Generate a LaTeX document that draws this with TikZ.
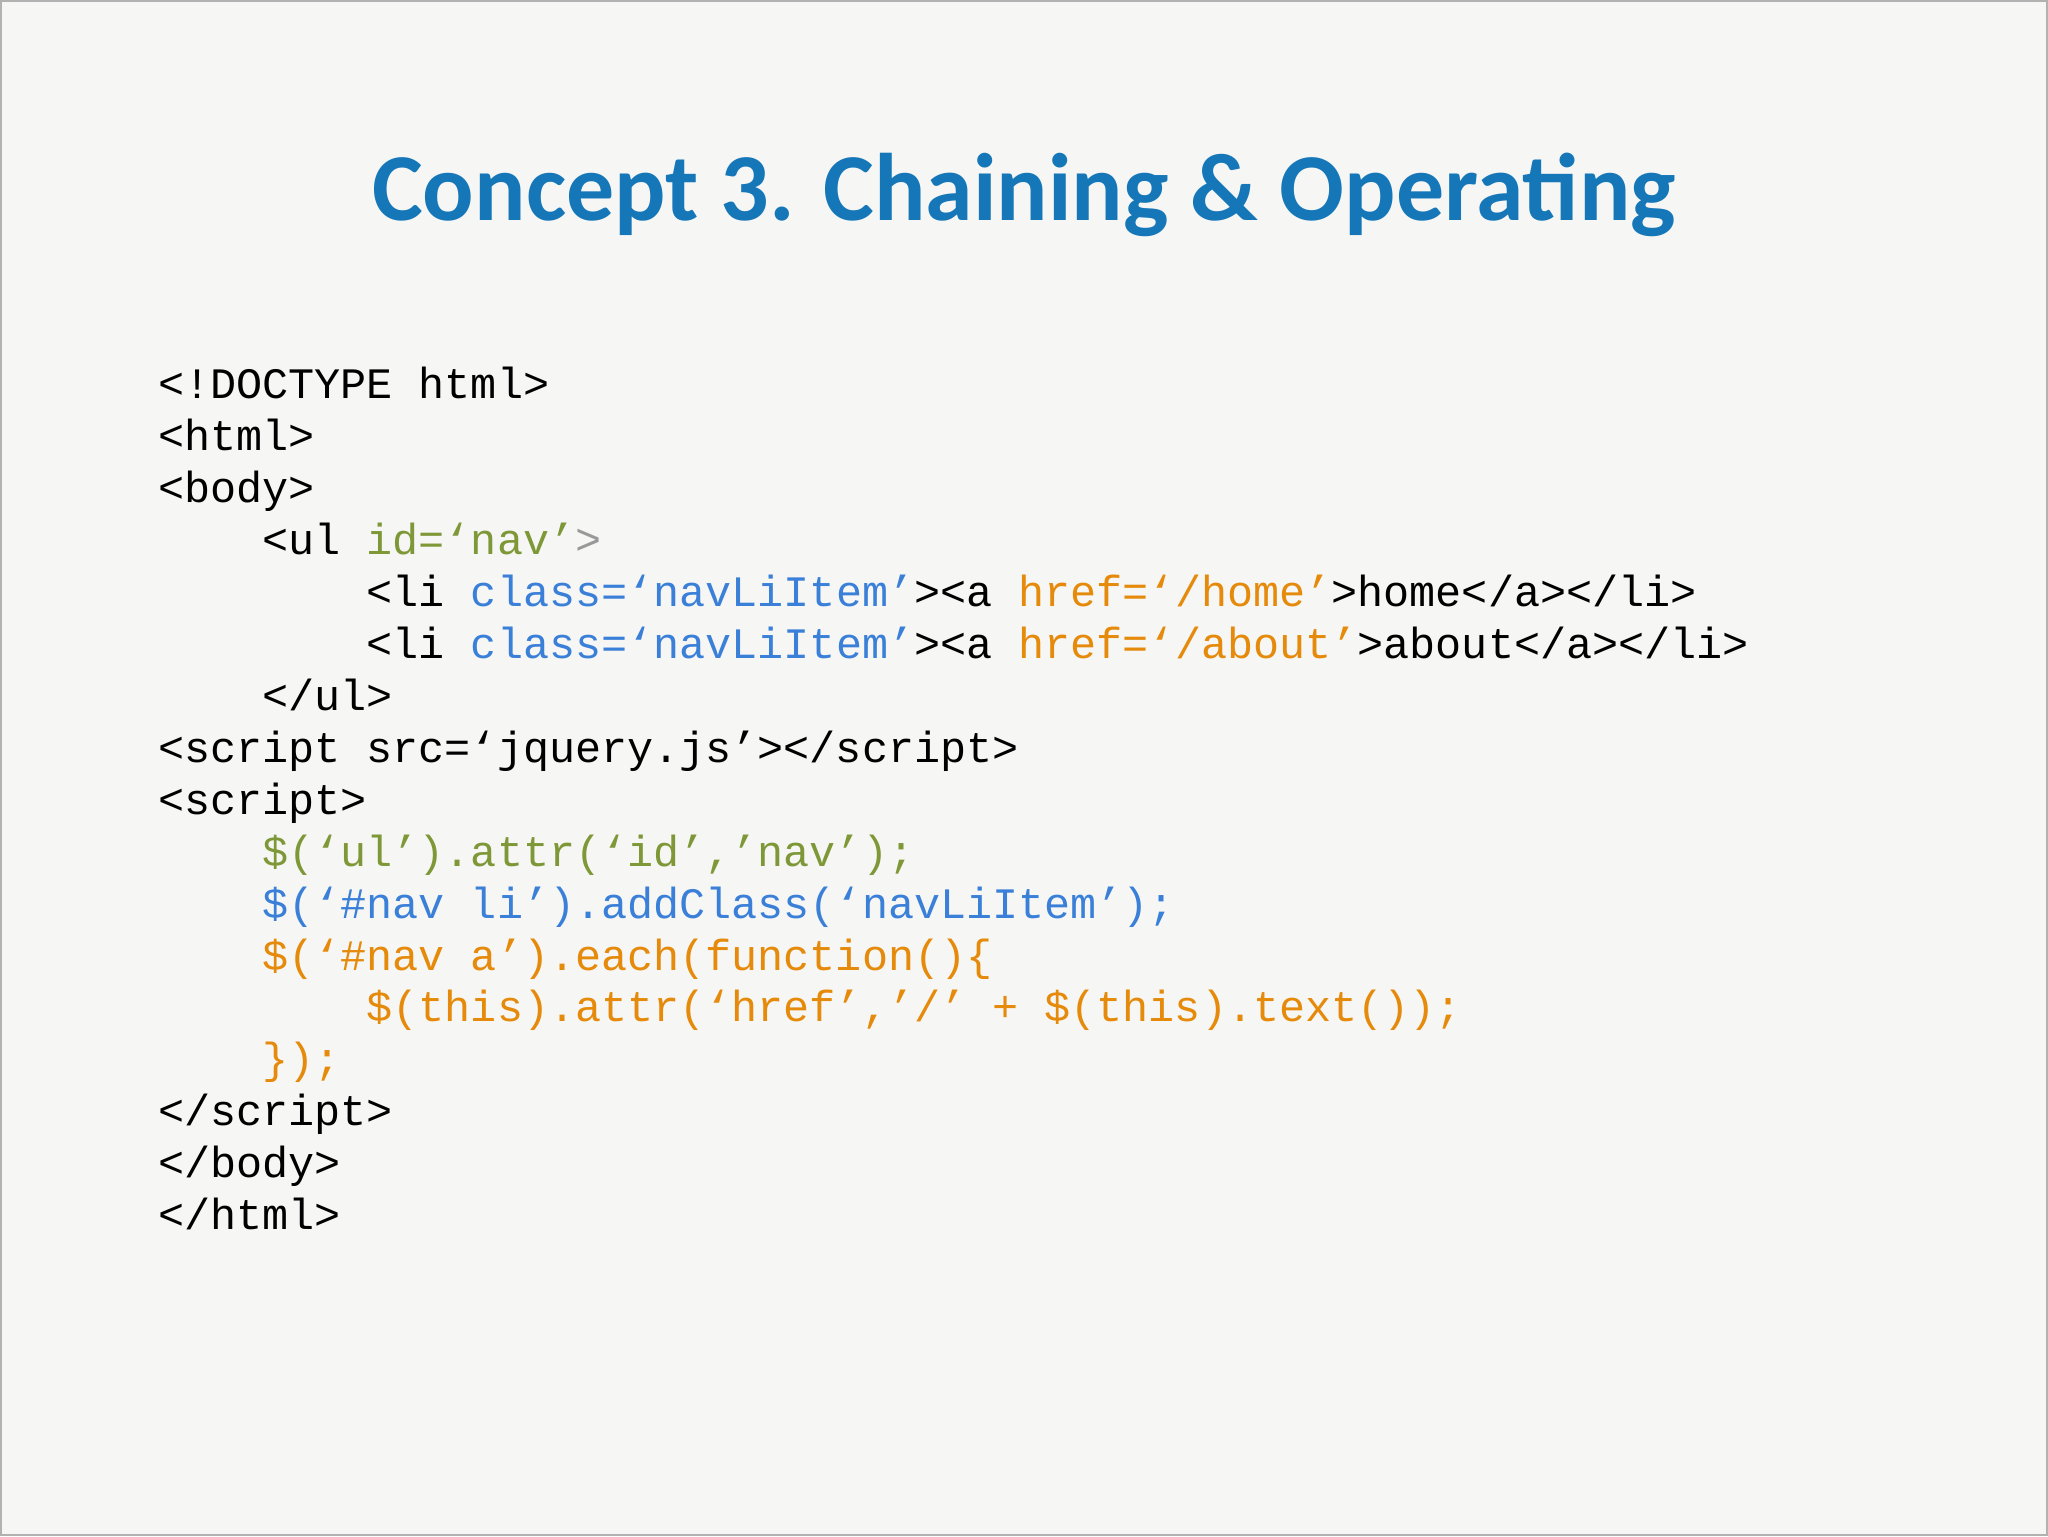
\documentclass[tikz,border=0pt]{standalone}
\usepackage{fontspec}
\setmainfont{Carlito}
\newfontfamily\codefont{Liberation Mono}
\definecolor{bg}{HTML}{F6F6F5}
\definecolor{ttl}{HTML}{1577B8}
\definecolor{cg}{HTML}{7E9838}
\definecolor{cb}{HTML}{3A7FD8}
\definecolor{co}{HTML}{E58A0A}
\definecolor{cgr}{HTML}{999999}
\tikzset{code/.style={anchor=base west,inner sep=0pt,font=\codefont\fontsize{43.5}{52}\selectfont}}
\begin{document}
\begin{tikzpicture}[x=1pt,y=1pt]
\fill[bg] (0,0) rectangle (2048,1536);
\draw[gray!60,line width=2pt] (0,0) rectangle (2048,1536);
\node[anchor=base,inner sep=0pt,text=ttl,font=\bfseries\fontsize{96}{110}\selectfont] (title) at (1024,1316) {Concept 3. Chaining \& Operating};
\def\L{157}\def\I{157+104.4}\def\II{157+208.8}
\node[code] (l1) at (\L,1138) {<!DOCTYPE html>};
\node[code] (l2) at (\L,1086) {<html>};
\node[code] (l3) at (\L,1034) {<body>};
\node[code] (l4) at ({\I},982) {<ul \textcolor{cg}{id=‘nav’}\textcolor{cgr}{>}};
\node[code] (l5) at ({\II},930) {<li \textcolor{cb}{class=‘navLiItem’}><a \textcolor{co}{href=‘/home’}>home</a></li>};
\node[code] (l6) at ({\II},878) {<li \textcolor{cb}{class=‘navLiItem’}><a \textcolor{co}{href=‘/about’}>about</a></li>};
\node[code] (l7) at ({\I},826) {</ul>};
\node[code] (l8) at (\L,774) {<script src=‘jquery.js’></script>};
\node[code] (l9) at (\L,722) {<script>};
\node[code,text=cg] (l10) at ({\I},670) {\$(‘ul’).attr(‘id’,’nav’);};
\node[code,text=cb] (l11) at ({\I},618) {\$(‘\#nav li’).addClass(‘navLiItem’);};
\node[code,text=co] (l12) at ({\I},566) {\$(‘\#nav a’).each(function()\{};
\node[code,text=co] (l13) at ({\II},514) {\$(this).attr(‘href’,’/’ + \$(this).text());};
\node[code,text=co] (l14) at ({\I},462) {\});};
\node[code] (l15) at (\L,410) {</script>};
\node[code] (l16) at (\L,358) {</body>};
\node[code] (l17) at (\L,306) {</html>};
\end{tikzpicture}
\end{document}
